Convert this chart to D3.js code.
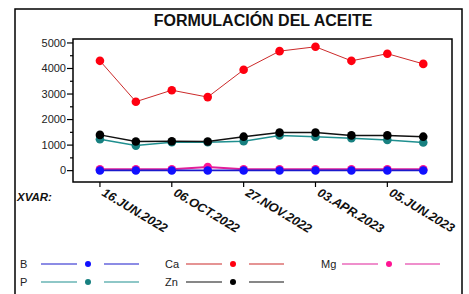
<!DOCTYPE html>
<html><head><meta charset="utf-8">
<script src="https://cdn.jsdelivr.net/npm/d3@7/dist/d3.min.js"></script>
<style>body{margin:0;background:#fff}svg{display:block}text{font-family:"Liberation Sans",Arial,sans-serif}</style>
</head><body><svg id="c" width="469" height="294"></svg>
<script>
const title = "FORMULACIÓN DEL ACEITE";
const xLabels = ["16.JUN.2022","","06.OCT.2022","","27.NOV.2022","","03.APR.2023","","05.JUN.2023",""];
const yTicks = [0,1000,2000,3000,4000,5000];
const seriesNames = ["B","Ca","Mg","P","Zn"];
const B  = [8,8,8,8,8,8,8,8,8,8];
const Ca = [4300,2700,3150,2880,3950,4680,4850,4300,4580,4180];
const Mg = [55,55,55,140,55,55,55,55,55,55];
const P  = [1230,980,1110,1110,1150,1380,1330,1270,1200,1100];
const Zn = [1400,1140,1150,1140,1330,1490,1490,1380,1380,1330];
const lineColors = {B:"#1a1acc",Ca:"#cc2a2a",Mg:"#e0209a",P:"#1f8f8f",Zn:"#111111"};
const dotColors  = {B:"#1010ff",Ca:"#ff0010",Mg:"#ff1493",P:"#178080",Zn:"#000000"};
const data = {B,Ca,Mg,P,Zn};

const svg = d3.select("#c");
const L=73, R=452, T=39, Bt=182;
const x = d3.scaleLinear().domain([-0.75, 9.8]).range([L,R]);
const y = d3.scaleLinear().domain([-445, 5155]).range([Bt,T]);

// outer frame
svg.append("rect").attr("x",15).attr("y",9).attr("width",447).attr("height",300)
  .attr("fill","none").attr("stroke","#000").attr("stroke-width",1.5);

svg.append("text").attr("x",263).attr("y",26).attr("text-anchor","middle")
  .attr("font-weight","bold").attr("font-size",16).attr("fill","#111").text(title);

// plot box
svg.append("rect").attr("x",L).attr("y",T).attr("width",R-L).attr("height",Bt-T)
  .attr("fill","none").attr("stroke","#000").attr("stroke-width",1.5);

// y axis
const ya = svg.append("g");
d3.range(-0,5001,500).forEach(v=>{
  const major = v%1000===0;
  ya.append("line").attr("x1",L-(major?6:3)).attr("x2",L).attr("y1",y(v)).attr("y2",y(v))
    .attr("stroke","#000").attr("stroke-width",1.2);
});
yTicks.forEach(v=>{
  ya.append("text").attr("x",L-7).attr("y",y(v)).attr("dy","0.35em").attr("text-anchor","end")
    .attr("font-size",11).attr("fill","#222").text(v);
});

// x axis ticks & labels
xLabels.forEach((lab,i)=>{
  if(!lab) return;
  svg.append("line").attr("x1",x(i)).attr("x2",x(i)).attr("y1",Bt).attr("y2",Bt+5)
    .attr("stroke","#000").attr("stroke-width",1.2);
  svg.append("text").attr("transform",`translate(${x(i)+1},${Bt+13}) rotate(31)`)
    .attr("font-size",12.5).attr("font-weight","bold").attr("font-style","italic")
    .attr("fill","#111").text(lab);
});
svg.append("text").attr("x",17).attr("y",201).attr("font-size",11.5).attr("font-weight","bold")
  .attr("font-style","italic").attr("fill","#111").text("XVAR:");

// series
const order = ["Mg","B","P","Zn","Ca"];
const line = d3.line().x((d,i)=>x(i)).y(d=>y(d));
const widths = {B:1.8,Ca:1,Mg:2,P:1.5,Zn:1.5};
order.forEach(k=>{
  svg.append("path").datum(data[k]).attr("d",line).attr("fill","none")
    .attr("stroke",lineColors[k]).attr("stroke-width",widths[k]);
});
order.forEach(k=>{
  svg.selectAll(null).data(data[k]).enter().append("circle")
    .attr("cx",(d,i)=>x(i)).attr("cy",d=>y(d)).attr("r",4.3).attr("fill",dotColors[k]);
});

// legend
const legPos = {B:[20,264],Ca:[165,264],Mg:[321,264],P:[20,282],Zn:[165,282]};
seriesNames.forEach(k=>{
  const [lx,ly]=legPos[k];
  const g = svg.append("g");
  g.append("text").attr("x",lx).attr("y",ly).attr("dy","0.35em").attr("font-size",11).attr("fill","#222").text(k);
  g.append("line").attr("x1",lx+21).attr("x2",lx+57).attr("y1",ly).attr("y2",ly).attr("stroke",lineColors[k]).attr("stroke-width",1.2);
  g.append("circle").attr("cx",lx+68).attr("cy",ly).attr("r",3).attr("fill",dotColors[k]);
  g.append("line").attr("x1",lx+84).attr("x2",lx+119).attr("y1",ly).attr("y2",ly).attr("stroke",lineColors[k]).attr("stroke-width",1.2);
});
</script></body></html>
